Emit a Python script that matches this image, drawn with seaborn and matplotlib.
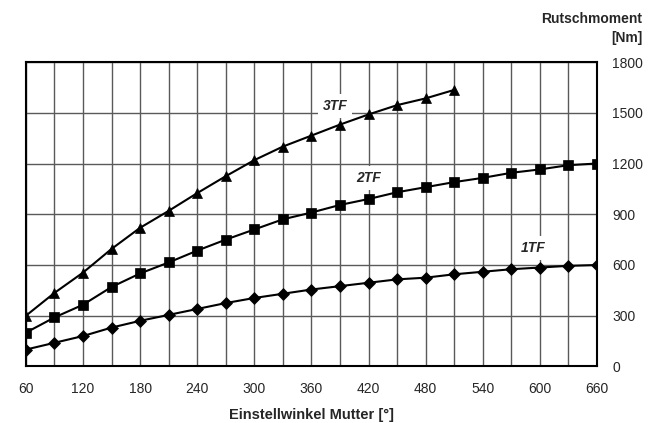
import numpy as np
import pandas as pd
import seaborn as sns
import matplotlib.pyplot as plt

# Data
winkel = [60, 90, 120, 150, 180, 210, 240, 270, 300, 330, 360, 390, 420,
          450, 480, 510, 540, 570, 600, 630, 660]
tf1 = [100, 140, 180, 230, 270, 305, 340, 375, 405, 430, 455, 475, 495,
       515, 525, 545, 560, 575, 585, 595, 600]
tf2 = [200, 290, 365, 470, 550, 615, 685, 750, 810, 870, 910, 955, 990,
       1030, 1060, 1090, 1115, 1145, 1165, 1190, 1200]
tf3 = [300, 435, 555, 695, 820, 920, 1025, 1125, 1220, 1300, 1365, 1430,
       1490, 1545, 1585, 1635]
labels = ["1TF", "2TF", "3TF"]
label_pos = [(593, 700), (420, 1115), (385, 1540)]

sns.set_style("white")
plt.rcParams["font.family"] = ["Liberation Sans", "DejaVu Sans"]

fig = plt.figure(figsize=(6.64, 4.23), dpi=100)
ax = fig.add_axes([0.039, 0.1336, 0.86, 0.7198])

series = [(tf1, "D", 6.3), (tf2, "s", 7.0), (tf3, "^", 7.8)]
for vals, mk, ms in series:
    df = pd.DataFrame({"x": winkel[:len(vals)], "y": vals})
    sns.lineplot(data=df, x="x", y="y", ax=ax, color="black", lw=1.5,
                 marker=mk, markersize=ms, markeredgecolor="black",
                 markeredgewidth=0.5, zorder=3)

for txt, (lx, ly) in zip(labels, label_pos):
    ax.text(lx, ly, txt, ha="center", va="center", fontsize=10,
            fontweight="bold", fontstyle="italic", zorder=4,
            bbox=dict(facecolor="white", edgecolor="none", pad=3.5))

ax.set_xlim(60, 660)
ax.set_ylim(0, 1800)
ax.set_xticks(np.arange(60, 661, 60))
ax.set_xticks(np.arange(60, 661, 30), minor=True)
ax.set_yticks(np.arange(0, 1801, 300))
ax.grid(True, which="both", color="#5a5a5a", lw=1.0, zorder=0)
ax.set_axisbelow(True)

ax.yaxis.tick_right()
ax.tick_params(axis="both", which="both", length=0, labelsize=10)
ax.tick_params(axis="x", pad=11)
ax.tick_params(axis="y", pad=11)
for s in ax.spines.values():
    s.set_color("black")
    s.set_linewidth(1.5)

ax.set_xlabel("Einstellwinkel Mutter [°]", fontsize=10.5, fontweight="bold", labelpad=9)
ax.set_ylabel("")
fig.text(0.967, 0.955, "Rutschmoment", ha="right", va="center",
         fontsize=10, fontweight="bold")
fig.text(0.967, 0.910, "[Nm]", ha="right", va="center",
         fontsize=10, fontweight="bold")

fig.savefig("out.png", dpi=100)
